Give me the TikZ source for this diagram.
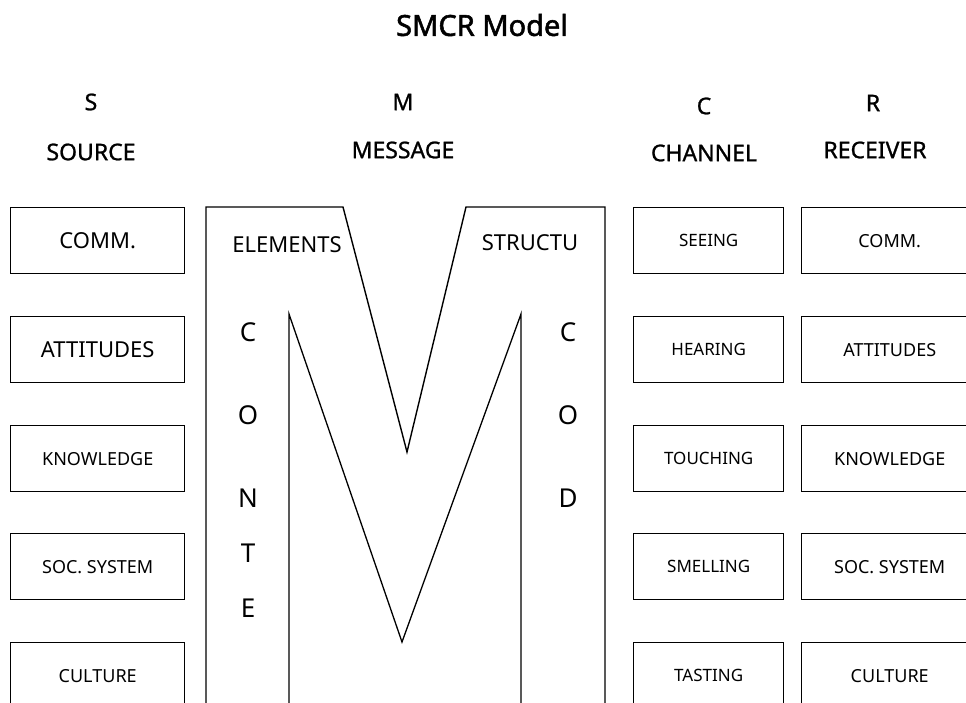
\documentclass[tikz,border=0pt]{standalone}
\usepackage{fontspec}
\setmainfont{Noto Sans}
\newfontfamily\headfont{Noto Sans}[FakeBold=1]
\newfontfamily\titlefont{Noto Sans}[FakeBold=1.8]
\usepackage{tikz}
\usepackage{xcolor}

\tikzset{
  cell/.style={draw, line width=1.4pt, anchor=north west, inner sep=0pt, minimum height=66pt},
  hdr/.style={inner sep=0.75pt, font=\headfont\fontsize{23}{26}\selectfont},
  big/.style={inner sep=0.75pt, font=\fontsize{22}{24}\selectfont},
  sml/.style={font=\fontsize{18}{20}\selectfont},
  ltr/.style={inner sep=0.75pt, font=\fontsize{26}{28}\selectfont},
}

\begin{document}
\begin{tikzpicture}[x=1pt,y=1pt,yscale=-1,xscale=1]
\useasboundingbox (0,0) rectangle (966,702);
\clip (0,0) rectangle (966,702);

% Text Node
\draw (482,25) node [inner sep=0.75pt, font=\titlefont\fontsize{29}{32}\selectfont] (title) {SMCR Model};

% Text Node
\draw (91,102) node [hdr] (hS) {S};
\draw (403,102) node [hdr] (hM) {M};
\draw (704,106) node [hdr] (hC) {C};
\draw (873,103) node [hdr] (hR) {R};
% Text Node
\draw (91,152) node [hdr] (hSrc) {SOURCE};
\draw (403,150) node [hdr] (hMsg) {MESSAGE};
\draw (704,153) node [hdr] (hChn) {CHANNEL};
\draw (875,150) node [hdr] (hRcv) {RECEIVER};

%Shape: Rectangle (source)
\node [cell, minimum width=174pt, font=\fontsize{22}{24}\selectfont] (src1) at (10,207) {COMM.};
\node [cell, minimum width=174pt, font=\fontsize{22}{24}\selectfont] (src2) at (10,316) {ATTITUDES};
\node [cell, minimum width=174pt, sml] (src3) at (10,425) {KNOWLEDGE};
\node [cell, minimum width=174pt, sml] (src4) at (10,533) {SOC.~SYSTEM};
\node [cell, minimum width=174pt, sml] (src5) at (10,642) {CULTURE};

%Shape: Rectangle (channel)
\node [cell, minimum width=150pt, font=\fontsize{17}{19}\selectfont] (chn1) at (633,207) {SEEING};
\node [cell, minimum width=150pt, font=\fontsize{17}{19}\selectfont] (chn2) at (633,316) {HEARING};
\node [cell, minimum width=150pt, font=\fontsize{17}{19}\selectfont] (chn3) at (633,425) {TOUCHING};
\node [cell, minimum width=150pt, font=\fontsize{17}{19}\selectfont] (chn4) at (633,533) {SMELLING};
\node [cell, minimum width=150pt, font=\fontsize{17}{19}\selectfont] (chn5) at (633,642) {TASTING};

%Shape: Rectangle (receiver)
\node [cell, minimum width=176pt, sml] (rcv1) at (801,207) {COMM.};
\node [cell, minimum width=176pt, sml] (rcv2) at (801,316) {ATTITUDES};
\node [cell, minimum width=176pt, sml] (rcv3) at (801,425) {KNOWLEDGE};
\node [cell, minimum width=176pt, sml] (rcv4) at (801,533) {SOC.~SYSTEM};
\node [cell, minimum width=176pt, sml] (rcv5) at (801,642) {CULTURE};

%Straight Lines [outer M]
\draw [line width=1.4pt, line join=miter] (206,710) -- (206,207) -- (343,207) -- (407,452) -- (466,207) -- (605,207) -- (605,710) ;
%Straight Lines [inner M]
\draw [line width=1.3pt, line join=miter] (289,710) -- (289,314) -- (402,642) -- (521,314) -- (521,710) ;

% Text Node
\draw (287,245) node [big] (elem) {ELEMENTS};
\draw (530,243) node [big] (struc) {STRUCTU};

% Text Node
\draw (248,332) node [ltr] (cn1) {C};
\draw (248,415) node [ltr] (cn2) {O};
\draw (248,498) node [ltr] (cn3) {N};
\draw (248,553) node [ltr] (cn4) {T};
\draw (248,608) node [ltr] (cn5) {E};
% Text Node
\draw (568,332) node [ltr] (cd1) {C};
\draw (568,415) node [ltr] (cd2) {O};
\draw (568,498) node [ltr] (cd3) {D};

\end{tikzpicture}
\end{document}
